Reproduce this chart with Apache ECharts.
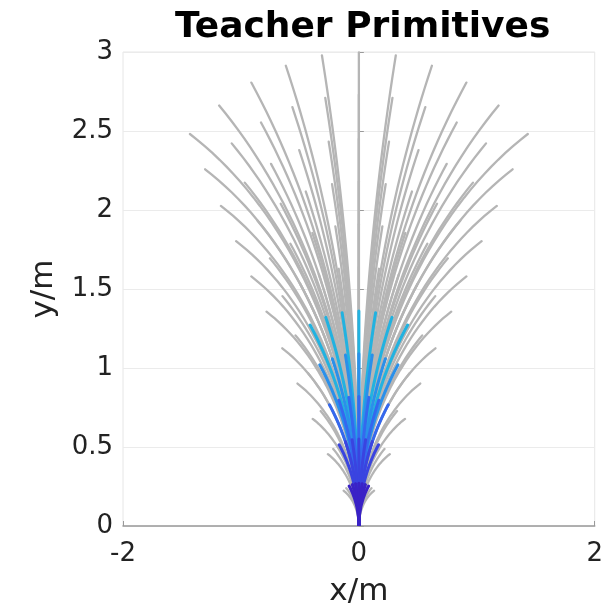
<!DOCTYPE html>
<html>
<head>
<meta charset="utf-8">
<script src="https://cdn.jsdelivr.net/npm/echarts@6/dist/echarts.min.js"></script>
<style>
  html, body { margin: 0; padding: 0; background: #fff; overflow: hidden; }
  #container { width: 606px; height: 614px; }
</style>
</head>
<body>
<div id="container"></div>
<script>
var dom = document.getElementById('container');
var myChart = echarts.init(dom, null, { renderer: 'canvas' });

// turning angle of each primitive (deg) and its path length (m)
var turnAngles = [-60, -48, -36, -24, -12, 0, 12, 24, 36, 48, 60];
var lengths = [0.27, 0.55, 0.82, 1.09, 1.36, 1.64, 1.91, 2.18, 2.45, 2.73, 3.0];

// teacher subset, drawn in colour on top
var teacherAngles = [-36, -24, -12, 0, 12, 24, 36];
var teacherLengths = [1.36, 1.09, 0.82, 0.55, 0.27];
var teacherColors = ['#22b2e0', '#2a90ea', '#3568ee', '#3a44e0', '#3a22c6'];

var xTicks = [-2, 0, 2];
var yTicks = [0, 0.5, 1, 1.5, 2, 2.5, 3];

function buildData(angles, lens) {
    var out = [];
    lens.forEach(function (l) {
        angles.forEach(function (a) {
            out.push([a, l]);
        });
    });
    return out;
}

// arc from the origin, heading +y, turning by value(0) deg over length value(1)
function renderArc(color, width) {
    return function (params, api) {
        var th = api.value(0) * Math.PI / 180;
        var L = api.value(1);
        var pts = [];
        var n = 40;
        for (var i = 0; i <= n; i++) {
            var t = i / n;
            var x, y;
            if (Math.abs(th) < 1e-9) {
                x = 0; y = L * t;
            } else {
                var R = L / th;
                x = R * (1 - Math.cos(th * t));
                y = R * Math.sin(th * t);
            }
            pts.push(api.coord([x, y]));
        }
        return {
            type: 'polyline',
            shape: { points: pts },
            style: { stroke: color, lineWidth: width, fill: null, lineCap: 'round' },
            silent: true
        };
    };
}

var series = [{
    type: 'custom',
    renderItem: renderArc('#b5b5b5', 2.3),
    data: buildData(turnAngles, lengths),
    encode: { x: -1, y: -1 },
    clip: true,
    z: 2
}];
teacherLengths.forEach(function (l, i) {
    series.push({
        type: 'custom',
        renderItem: renderArc(teacherColors[i], 3),
        data: buildData(teacherAngles, [l]),
        encode: { x: -1, y: -1 },
        clip: true,
        z: 3 + i
    });
});

var font = 'DejaVu Sans';

option = {
    animation: false,
    backgroundColor: '#fff',
    graphic: [{
        type: 'text',
        left: 175,
        top: 10,
        style: {
            text: 'Teacher Primitives',
            font: 'bold 36px "DejaVu Sans"',
            fill: '#000'
        }
    }],
    grid: { left: 123, right: 4, top: 52, bottom: 88, show: true, borderColor: '#e6e6e6', borderWidth: 1 },
    xAxis: {
        type: 'value', min: -2, max: 2, interval: 2,
        name: 'x/m', nameLocation: 'middle', nameGap: 50,
        nameTextStyle: { fontFamily: font, fontSize: 31, color: '#222' },
        axisLine: { onZero: false, lineStyle: { color: '#9a9a9a', width: 1.5 } },
        axisTick: { show: true, inside: true, length: 5, lineStyle: { color: '#9a9a9a' } },
        axisLabel: { fontFamily: font, fontSize: 26, color: '#222', margin: 15,
            formatter: function (v) { return xTicks.indexOf(v) >= 0 ? String(v) : ''; } },
        splitLine: { show: false }
    },
    yAxis: {
        type: 'value', min: 0, max: 3, interval: 0.5,
        name: 'y/m', nameLocation: 'middle', nameGap: 64,
        nameTextStyle: { fontFamily: font, fontSize: 31, color: '#222' },
        axisLine: { show: true, lineStyle: { color: '#9a9a9a', width: 1.5 } },
        axisTick: { show: true, inside: true, length: 5, lineStyle: { color: '#9a9a9a' } },
        axisLabel: { fontFamily: font, fontSize: 26, color: '#222', margin: 10,
            formatter: function (v) { return yTicks.indexOf(v) >= 0 ? String(v) : ''; } },
        splitLine: { show: true, lineStyle: { color: '#ebebeb', width: 1 } }
    },
    series: series
};

myChart.setOption(option);
</script>
</body>
</html>
